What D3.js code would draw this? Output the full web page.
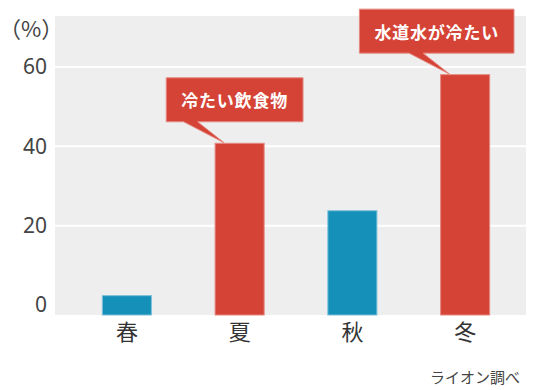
<!DOCTYPE html>
<html lang="ja">
<head>
  <meta charset="utf-8">
  <title>季節別</title>
  <script src="https://d3js.org/d3.v7.min.js"></script>
  <style>
    body { margin: 0; background: #fff; }
    text { font-family: "Noto Sans CJK JP", "Noto Sans", sans-serif; }
  </style>
</head>
<body>
  <div id="chart"></div>
  <script>
    "use strict"
    // dados
    var seasons = ["春", "夏", "秋", "冬"];
    var values = [2.5, 40.9, 23.9, 58.2];
    var highlight = [false, true, false, true];
    var yTicks = [0, 20, 40, 60];
    var calloutSeason = ["夏", "冬"];
    var calloutText = ["冷たい飲食物", "水道水が冷たい"];

    var W = 550, H = 390;
    var plot = {left: 55, right: 526, top: 16, bottom: 315};

    var svg = d3.select("#chart").append("svg")
      .attr("width", W).attr("height", H);

    var x = d3.scaleBand()
      .domain(seasons)
      .range([70.5, 521.5])
      .paddingInner(0.556)
      .paddingOuter(0.278);
    var y = d3.scaleLinear()
      .domain([-2.5, 72.85])
      .range([plot.bottom, plot.top]);

    // fundo
    svg.append("rect")
      .attr("x", plot.left).attr("y", plot.top)
      .attr("width", plot.right - plot.left)
      .attr("height", plot.bottom - plot.top)
      .attr("fill", "#eeeeee");

    // grade
    svg.append("g").selectAll("line")
      .data(yTicks.filter(d => d > 0))
      .enter().append("line")
        .attr("x1", plot.left).attr("x2", plot.right)
        .attr("y1", d => y(d)).attr("y2", d => y(d))
        .attr("stroke", "#fff").attr("stroke-width", 2);

    // eixo y
    var yAxis = svg.append("g")
      .attr("transform", "translate(" + plot.left + ",0)")
      .call(d3.axisLeft(y).tickValues(yTicks).tickSize(0).tickPadding(8));
    yAxis.select(".domain").remove();
    yAxis.selectAll("text")
      .attr("font-size", 21).attr("fill", "#444")
      .style("font-family", "'Noto Sans', sans-serif");

    // eixo x
    var xAxis = svg.append("g")
      .attr("transform", "translate(0," + plot.bottom + ")")
      .call(d3.axisBottom(x).tickSize(0).tickPadding(9));
    xAxis.select(".domain").remove();
    xAxis.selectAll("text")
      .attr("font-size", 22).attr("fill", "#333");

    // barras
    var data = seasons.map((s, i) => ({s: s, v: values[i], hl: highlight[i]}));
    svg.append("g").selectAll("rect")
      .data(data)
      .enter().append("rect")
        .attr("x", d => x(d.s) + 0.5)
        .attr("width", x.bandwidth() - 1)
        .attr("y", d => y(d.v) + 0.5)
        .attr("height", d => y.range()[0] - y(d.v) - 0.5)
        .attr("fill", d => d.hl ? "#d54336" : "#1490b9")
        .attr("stroke", d => d.hl ? "#e58a82" : "#7cc0d8")
        .attr("stroke-width", 1);

    // balões
    calloutSeason.forEach(function(s, i) {
      var d = data.find(e => e.s === s);
      var bx = x(d.s), by = y(d.v);
      var g = svg.append("g");
      var path = g.append("path");
      var t = g.append("text")
        .attr("font-size", 17).attr("font-weight", "bold")
        .attr("fill", "#fff")
        .attr("text-anchor", "middle")
        .attr("dominant-baseline", "central")
        .attr("letter-spacing", 0.8)
        .text(calloutText[i]);
      var tw = t.node().getComputedTextLength();
      var w = tw + 30, h = 44;
      var cx = bx + x.bandwidth() / 2 - 5;
      if (cx + w / 2 > 514) cx = 514 - w / 2;
      var left = cx - w / 2, bottom = by - 21, top = bottom - h;
      t.attr("x", cx).attr("y", top + h / 2);
      var p = d3.path();
      p.moveTo(left, top);
      p.lineTo(left + w, top);
      p.lineTo(left + w, bottom);
      p.lineTo(bx - 17, bottom);
      p.lineTo(bx + 9.5, by);
      p.lineTo(bx - 31, bottom);
      p.lineTo(left, bottom);
      p.closePath();
      path.attr("d", p.toString())
        .attr("fill", "#d54336")
        .attr("stroke", "#e58a82")
        .attr("stroke-width", 1);
    });

    // rótulos
    svg.append("text")
      .attr("x", 31).attr("y", 27)
      .attr("text-anchor", "middle")
      .attr("dominant-baseline", "central")
      .attr("font-size", 22).attr("fill", "#444")
      .text("（%）");
    svg.append("text")
      .attr("x", 520).attr("y", 376)
      .attr("text-anchor", "end")
      .attr("dominant-baseline", "central")
      .attr("font-size", 15).attr("fill", "#444")
      .text("ライオン調べ");
  </script>
</body>
</html>
